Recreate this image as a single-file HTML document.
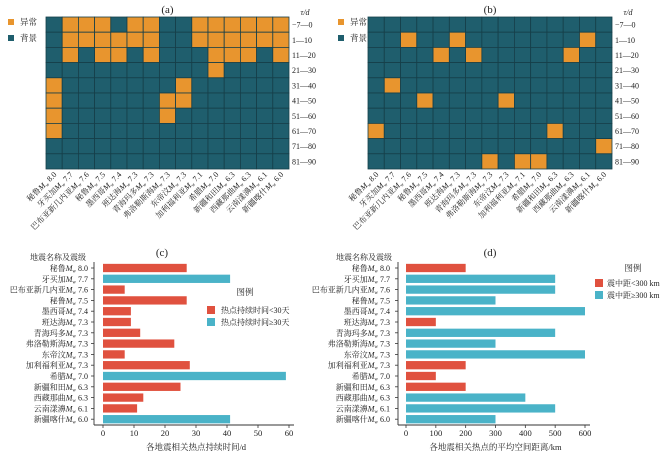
<!DOCTYPE html>
<html><head><meta charset="utf-8"><style>
body{margin:0;background:#fff}
svg{display:block;font-family:"Liberation Serif","Noto Serif CJK SC",serif}
</style></head><body>
<svg id="s" width="670" height="454" viewBox="0 0 670 454"></svg>
<script>
const names=["秘鲁","牙买加","巴布亚新几内亚","秘鲁","墨西哥","班达海","青海玛多","弗洛勒斯海","东帝汶","加利福利亚","希腊","新疆和田","西藏那曲","云南漾濞","新疆喀什"];
const magsA=["8.0","7.7","7.6","7.5","7.4","7.3","7.3","7.3","7.3","7.1","7.0","6.3","6.3","6.1","6.0"];
const magsC=["8.0","7.7","7.6","7.5","7.4","7.3","7.3","7.3","7.3","7.3","7.0","6.3","6.3","6.1","6.0"];
const rowLabels=["−7—0","1—10","11—20","21—30","31—40","41—50","51—60","61—70","71—80","81—90"];
const heatA=[
[0,1,1,1,0,1,1,0,0,1,1,1,1,1,1],
[0,1,1,1,1,1,1,0,0,1,1,1,1,1,1],
[0,1,0,1,1,0,1,0,0,0,1,1,1,0,1],
[0,0,0,0,0,0,0,0,0,0,1,0,0,0,0],
[1,0,0,0,0,0,0,0,1,0,0,0,0,0,0],
[1,0,0,0,0,0,0,1,1,0,0,0,0,0,0],
[1,0,0,0,0,0,0,1,0,0,0,0,0,0,0],
[1,0,0,0,0,0,0,0,0,0,0,0,0,0,0],
[0,0,0,0,0,0,0,0,0,0,0,0,0,0,0],
[0,0,0,0,0,0,0,0,0,0,0,0,0,0,0]];
const heatB=[
[0,0,0,0,0,0,0,0,0,0,0,0,0,0,0],
[0,0,1,0,0,1,0,0,0,0,0,0,0,1,0],
[0,0,0,0,1,0,1,0,0,0,0,0,1,0,0],
[0,0,0,0,0,0,0,0,0,0,0,0,0,0,0],
[0,1,0,0,0,0,0,0,0,0,0,0,0,0,0],
[0,0,0,1,0,0,0,0,1,0,0,0,0,0,0],
[0,0,0,0,0,0,0,0,0,0,0,0,0,0,0],
[1,0,0,0,0,0,0,0,0,0,0,1,0,0,0],
[0,0,0,0,0,0,0,0,0,0,0,0,0,0,1],
[0,0,0,0,0,0,0,1,0,1,1,0,0,0,0]];
const durations=[27,41,7,27,9,9,12,23,7,28,59,25,13,11,41];
const distances=[200,500,500,300,600,100,500,300,600,200,100,200,400,500,300];
const ticksC=[0,10,20,30,40,50,60];
const ticksD=[0,100,200,300,400,500,600];

const S=document.getElementById('s');const NS="http://www.w3.org/2000/svg";
function el(t,a,p){const e=document.createElementNS(NS,t);for(const k in a)e.setAttribute(k,a[k]);(p||S).appendChild(e);return e;}
function txt(x,y,s,a,p){const e=el('text',Object.assign({x:x,y:y,'font-size':8.5,fill:'#222'},a||{}),p);e.textContent=s;return e;}
function lbl(x,y,i,mags,a){const e=el('text',Object.assign({x:x,y:y,'font-size':8,fill:'#222'},a));
 const t1=el('tspan',{},e);t1.textContent=names[i];
 const t2=el('tspan',{'font-style':'italic'},e);t2.textContent='M';
 const t3=el('tspan',{'font-size':5,dy:1.5},e);t3.textContent='w';
 const t4=el('tspan',{dy:-1.5},e);t4.textContent=' '+mags[i];return e;}
const OR="#E8952E",TE="#1F5E6D",RD="#E0513F",CY="#4AB3C8";

function heat(data,x0,x1,y0,y1,title,lx){
 const cw=(x1-x0)/15,ch=(y1-y0)/10;
 const g=el('g',{});
 
 
 data.forEach((r,ri)=>r.forEach((v,ci)=>{
  const c=el('rect',{x:x0+ci*cw,y:y0+ri*ch,width:cw,height:ch,fill:v?OR:TE,stroke:'#163f49','stroke-width':0.8},g);
  
  
 }));
 const t=txt((x0+x1)/2,13,'('+title+')',{'font-size':11,'text-anchor':'middle'});
 
 txt(x1+16,15,'τ/d',{'font-size':8,'font-style':'italic','text-anchor':'middle'});
 rowLabels.forEach((s,ri)=>txt(x1+3,y0+ri*ch+ch/2+3,s,{'font-size':8}));
 names.forEach((n,i)=>{const cx=x0+i*cw+cw/2+3,cy=y1+6;lbl(cx,cy,i,magsA,{'text-anchor':'end',transform:`rotate(-45 ${cx} ${cy})`});});
 const lg=el('g',{});
 el('rect',{x:lx,y:19,width:6,height:6,fill:OR},lg);txt(lx+12,25,'异常',{},lg);
 el('rect',{x:lx,y:35,width:6,height:6,fill:TE},lg);txt(lx+12,41,'背景',{},lg);
}
heat(heatA,46,289,17,169,'a',8);
heat(heatB,368,612,17,169,'b',338);

function bars(vals,ax,x0,x1,vmax,ticks,th,title,lblRight,xlab,legX,legT,headX,titleX){
 const sx=v=>x0+(x1-x0)*v/vmax;const yTop=268,step=10.8,bh=8.3,yAxis=425;
 const g=el('g',{});
 vals.forEach((v,i)=>{const cy=yTop+i*step;
  const b=el('rect',{x:sx(0),y:cy-bh/2,width:sx(v)-sx(0),height:bh,fill:v<th?RD:CY},g);
  
  el('line',{x1:ax-3,x2:ax,y1:cy,y2:cy,stroke:'#333','stroke-width':0.8},g);
  lbl(lblRight,cy+3,i,magsC,{'text-anchor':'end'});
 });
 el('line',{x1:ax,x2:ax,y1:262,y2:yAxis,stroke:'#333','stroke-width':0.9},g);
 el('line',{x1:ax,x2:x1+5,y1:yAxis,y2:yAxis,stroke:'#333','stroke-width':0.9},g);
 ticks.forEach(t=>{el('line',{x1:sx(t),x2:sx(t),y1:yAxis,y2:yAxis+3,stroke:'#333','stroke-width':0.8},g);txt(sx(t),436,String(t),{'text-anchor':'middle','font-size':8.5},g);});
 const tt=txt(titleX,256,'('+title+')',{'font-size':11,'text-anchor':'middle'});
 
 txt(headX,260,'地震名称及震级',{'font-size':8,'text-anchor':'middle'});
 const xl=txt((x0+x1)/2,450,xlab,{'font-size':8.5,'text-anchor':'middle'});
 
 const lg=el('g',{});
 txt(legX+38,legT,'图例',{'font-size':8.5,'text-anchor':'middle'},lg);
 return lg;
}
let lg=bars(durations,94,103,289,60,ticksC,30,'c',88,'各地震相关热点持续时间/d',207,295,58,162);
el('rect',{x:207,y:306,width:8,height:8,fill:RD},lg);txt(221,313,'热点持续时间<30天',{'font-size':8},lg);
el('rect',{x:207,y:318,width:8,height:8,fill:CY},lg);txt(221,325,'热点持续时间≥30天',{'font-size':8},lg);
lg=bars(distances,398,406,585,600,ticksD,300,'d',390,'各地震相关热点的平均空间距离/km',595,271,364,490);
el('rect',{x:595,y:279,width:8,height:8,fill:RD},lg);txt(607,286,'震中距<300 km',{'font-size':8},lg);
el('rect',{x:595,y:291,width:8,height:8,fill:CY},lg);txt(607,298,'震中距≥300 km',{'font-size':8},lg);
</script>
</body></html>
